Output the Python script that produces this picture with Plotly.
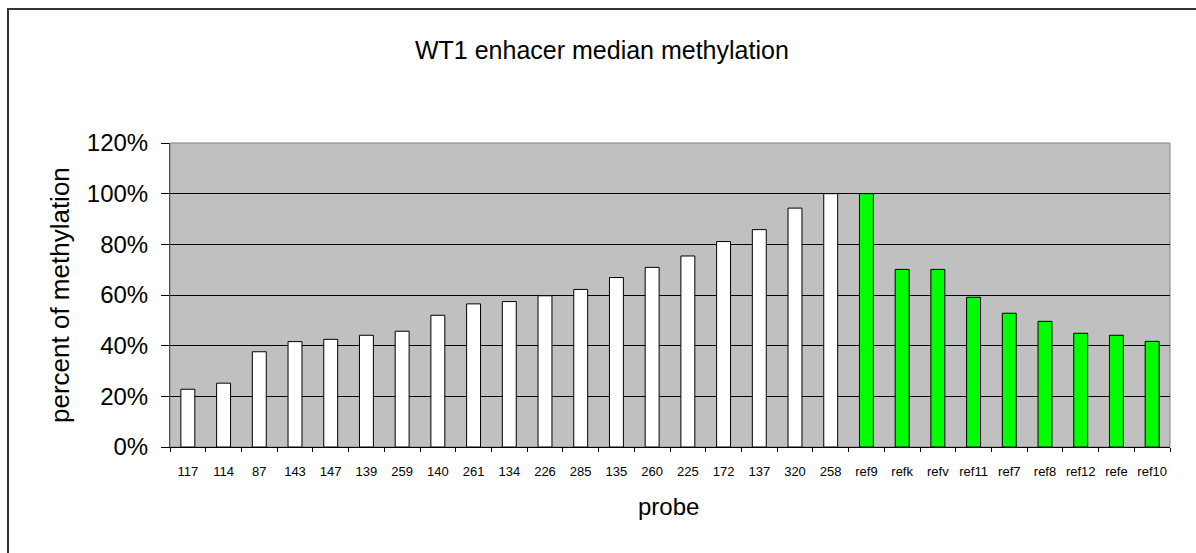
import plotly.graph_objects as go

# probe labels and median methylation (fraction)
probes = ["117", "114", "87", "143", "147", "139", "259", "140", "261", "134",
          "226", "285", "135", "260", "225", "172", "137", "320", "258"]
probe_values = [0.228, 0.252, 0.376, 0.416, 0.425, 0.441, 0.457, 0.520, 0.565, 0.574,
                0.597, 0.622, 0.669, 0.709, 0.754, 0.811, 0.858, 0.943, 1.00]

refs = ["ref9", "refk", "refv", "ref11", "ref7", "ref8", "ref12", "refe", "ref10"]
ref_values = [1.00, 0.701, 0.701, 0.591, 0.528, 0.496, 0.449, 0.441, 0.417]

categories = probes + refs

W, H = 1196, 553
L, R, T, B = 170, 26, 143, 106
pw, ph = W - L - R, H - T - B


def px_x(x):
    return (x - L) / pw


def px_y(y):
    return (H - B - y) / ph


FONT = "Arial, Liberation Sans, sans-serif"

fig = go.Figure()
fig.add_trace(go.Bar(
    x=probes, y=probe_values,
    marker=dict(color="#FFFFFF", line=dict(color="#000000", width=1)),
    showlegend=False, hoverinfo="x+y",
))
fig.add_trace(go.Bar(
    x=refs, y=ref_values,
    marker=dict(color="#00FF00", line=dict(color="#000000", width=1)),
    showlegend=False, hoverinfo="x+y",
))

fig.update_layout(
    width=W, height=H,
    margin=dict(l=L, r=R, t=T, b=B),
    paper_bgcolor="#FFFFFF",
    plot_bgcolor="#C0C0C0",
    barmode="overlay",
    bargap=0.61,
    font=dict(family=FONT, color="#000000"),
    xaxis=dict(
        type="category",
        categoryorder="array", categoryarray=categories,
        range=[-0.5, len(categories) - 0.5],
        showgrid=False, zeroline=False,
        showline=True, linecolor="#000000", linewidth=1,
        ticks="outside", tickson="boundaries", ticklen=4, tickcolor="#000000",
        tickangle=0,
        tickfont=dict(size=13, family=FONT, color="#000000"),
        ticklabelstandoff=12,
    ),
    yaxis=dict(
        range=[0, 1.2], dtick=0.2, tickformat=".0%",
        showgrid=True, gridcolor="#000000", gridwidth=1,
        zeroline=False,
        showline=True, linecolor="#555555", linewidth=1,
        ticks="outside", ticklen=8, tickcolor="#000000",
        tickfont=dict(size=24, family=FONT, color="#000000"),
        ticklabelstandoff=8,
    ),
    shapes=[
        # plot area border
        dict(type="rect", xref="paper", yref="paper", x0=0, x1=1, y0=0, y1=1,
             line=dict(color="#808080", width=1), layer="below"),
        # outer chart frame
        dict(type="rect", xref="paper", yref="paper",
             x0=px_x(8), x1=px_x(1205), y0=px_y(9), y1=px_y(565),
             line=dict(color="#333333", width=2)),
    ],
    annotations=[
        dict(text="WT1 enhacer median methylation", xref="paper", yref="paper",
             x=px_x(602), y=px_y(50), xanchor="center", yanchor="middle",
             showarrow=False, font=dict(size=25, family=FONT, color="#000000")),
        dict(text="percent of methylation", xref="paper", yref="paper",
             x=px_x(60), y=0.5, xanchor="center", yanchor="middle", textangle=-90,
             showarrow=False, font=dict(size=26, family=FONT, color="#000000")),
        dict(text="probe", xref="paper", yref="paper",
             x=px_x(668), y=px_y(506), xanchor="center", yanchor="middle",
             showarrow=False, font=dict(size=24, family=FONT, color="#000000")),
    ],
)

fig.write_html("out.html")
